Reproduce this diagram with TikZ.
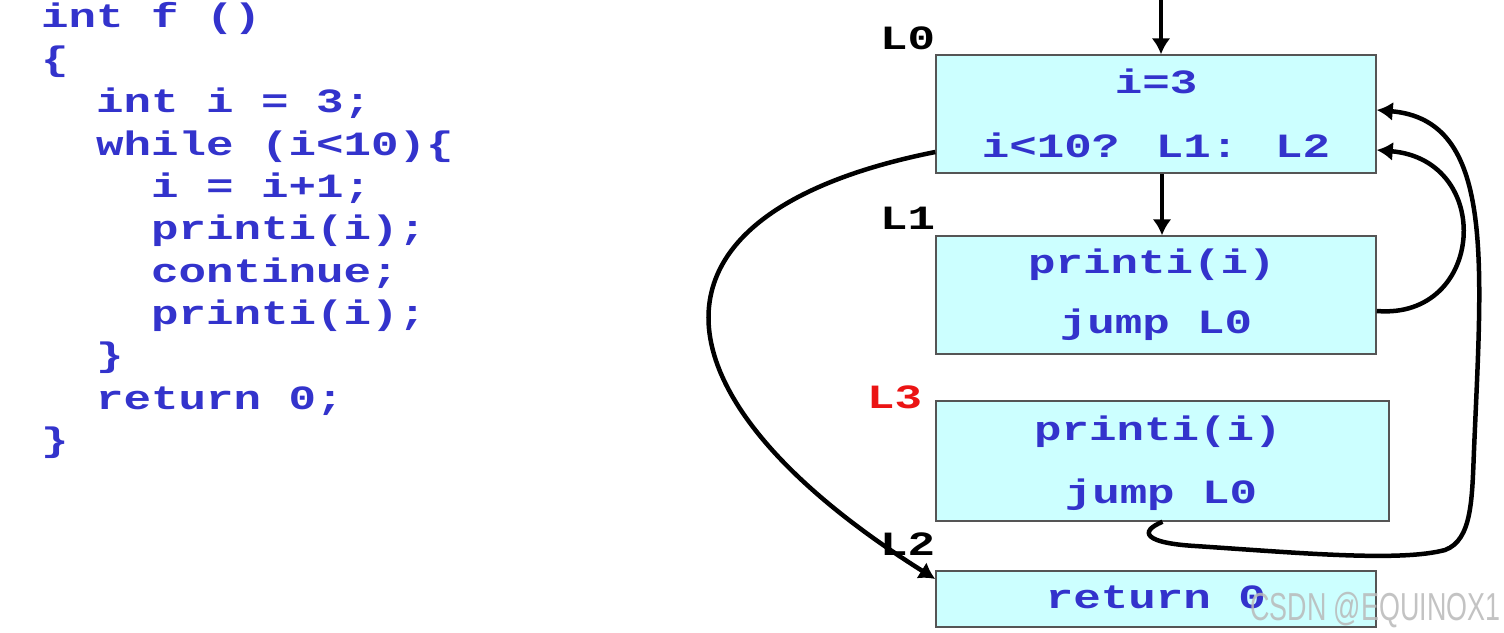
\documentclass[tikz,border=0pt]{standalone}
\usepackage{fontspec}
\newfontfamily\codeff[FakeStretch=1.348]{Liberation Mono}
\newfontfamily\wmfont{Liberation Sans}
\usetikzlibrary{arrows.meta}
\definecolor{codeblue}{RGB}{51,51,204}
\definecolor{boxfill}{RGB}{204,255,255}
\definecolor{boxline}{RGB}{85,85,85}
\definecolor{lblred}{RGB}{235,20,20}
\begin{document}
\begin{tikzpicture}[x=1pt,y=-1pt,
  codefont/.style={font=\codeff\bfseries\fontsize{34}{40}\selectfont},
  code/.style={codefont, anchor=base west, inner sep=0pt, text=codeblue},
  boxtxt/.style={codefont, anchor=base, inner sep=0pt, text=codeblue},
  lbl/.style={codefont, anchor=base west, inner sep=0pt, text=black},
  bb/.style={draw=boxline, line width=1.5pt, fill=boxfill, inner sep=0pt},
  conn/.style={line width=4.5pt, -{Latex[length=16pt,width=19pt]}}
]
\useasboundingbox (0,0) rectangle (1504,632);
\fill[white] (0,0) rectangle (1504,632);

% source code
\node[code] (c1) at (41,27) {int f ()};
\node[code] (c2) at (41,70) {\{};
\node[code] (c3) at (96,112) {int i = 3;};
\node[code] (c4) at (96,155) {while (i<10)\{};
\node[code] (c5) at (151,197) {i = i+1;};
\node[code] (c6) at (151,239) {printi(i);};
\node[code] (c7) at (151,282) {continue;};
\node[code] (c8) at (151,324) {printi(i);};
\node[code] (c9) at (96,366) {\}};
\node[code] (c10) at (96,409) {return 0;};
\node[code] (c11) at (41,451) {\}};

% boxes
\node[bb, minimum width=440pt, minimum height=118pt] (b0) at (1156,114) {};
\node[bb, minimum width=440pt, minimum height=118pt] (b1) at (1156,295) {};
\node[bb, minimum width=453pt, minimum height=120pt] (b3) at (1162.5,461) {};
\node[bb, minimum width=440pt, minimum height=56pt] (b2) at (1156,599) {};

\node[boxtxt] (t01) at (1156,93) {i=3};
\node[boxtxt] (t02) at (1156,157) {i<10? L1: L2};
\node[boxtxt] (t11) at (1152,273) {printi(i)};
\node[boxtxt] (t12) at (1156,333) {jump L0};
\node[boxtxt] (t31) at (1158,440) {printi(i)};
\node[boxtxt] (t32) at (1161,503) {jump L0};
\node[boxtxt] (t21) at (1156,608) {return 0};

% labels
\node[lbl] (l0) at (880,49) {L0};
\node[lbl] (l1) at (880,229) {L1};
\node[lbl, text=lblred] (l3) at (867,408) {L3};
\node[lbl] (l2) at (880,555) {L2};

% connectors
\coordinate (top) at (1161,0);
\draw[conn] (top) -- (top |- b0.north);
\draw[conn] ([xshift=6pt]b0.south) -- ([xshift=6pt]b1.north);
\draw[conn] ([yshift=-38pt]b0.west) .. controls (620,215) and (650,400) .. ([yshift=20pt]b2.west);
\draw[conn] ([yshift=-16pt]b1.east) .. controls (1485,320) and (1495,160) .. ([yshift=-36pt]b0.east);
\draw[conn] (b3.south) .. controls (1138,532) and (1145,543) .. (1195,546)
  .. controls (1300,553) and (1400,562) .. (1445,550)
  .. controls (1472,540) and (1472,500) .. (1474,450)
  .. controls (1482,260) and (1495,120) .. ([yshift=4pt]b0.east);

% watermark
\node[anchor=base west, inner sep=0pt, text=gray!55, opacity=0.85] (wm) at (1250,620)
  {\scalebox{0.69}[1]{\wmfont\fontsize{39}{40}\selectfont CSDN @EQUINOX1}};
\end{tikzpicture}
\end{document}
